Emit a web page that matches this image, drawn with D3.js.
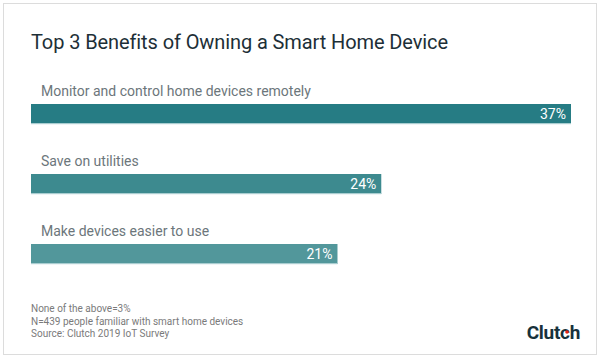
<!DOCTYPE html>
<html>
<head>
<meta charset="utf-8">
<script src="https://cdn.jsdelivr.net/npm/d3@7"></script>
<style>
  html, body { margin: 0; padding: 0; background: #fff; }
  svg { display: block; font-family: Roboto, sans-serif; }
</style>
</head>
<body>
<svg id="chart" width="600" height="358"></svg>
<script>
var categories = ['Monitor and control home devices remotely', 'Save on utilities', 'Make devices easier to use'];
var values = [37, 24, 21];
var barColors = ['#267c84', '#3d8a8f', '#52979b'];
var notes = ['None of the above=3%', 'N=439 people familiar with smart home devices', 'Source: Clutch 2019 IoT Survey'];

var svg = d3.select('#chart');

// card outline
svg.append('rect')
    .attr('x', 3.5).attr('y', 3.5)
    .attr('width', 593).attr('height', 351)
    .attr('fill', '#fff')
    .attr('stroke', '#dcdcdc');

svg.append('text')
    .attr('x', 31).attr('y', 49)
    .attr('fill', '#1d2f37')
    .style('font-size', '20px')
    .style('letter-spacing', '-0.1px')
    .text('Top 3 Benefits of Owning a Smart Home Device');

var x = d3.scaleLinear().domain([0, 37]).range([31, 571]);
var y = d3.scaleBand().domain(categories).range([104, 314]).paddingInner(0).paddingOuter(0);

var rows = svg.selectAll('g.row')
    .data(categories)
    .enter()
    .append('g')
        .attr('class', 'row')
        .attr('transform', function (d) { return 'translate(0,' + y(d) + ')'; });

rows.append('text')
    .attr('x', 41).attr('y', -8)
    .attr('fill', '#6c767b')
    .style('font-size', '14px')
    .text(function (d) { return d; });

rows.append('rect')
    .attr('x', x(0))
    .attr('y', 0)
    .attr('width', function (d, i) { return x(values[i]) - x(0); })
    .attr('height', 20)
    .attr('fill', function (d, i) { return barColors[i]; });

// thin light edge under each bar
rows.append('rect')
    .attr('x', x(0))
    .attr('y', 19)
    .attr('width', function (d, i) { return x(values[i]) - x(0); })
    .attr('height', 1.2)
    .attr('fill', '#a9cdd0');

rows.append('text')
    .attr('x', function (d, i) { return x(values[i]) - 5; })
    .attr('y', 15)
    .attr('text-anchor', 'end')
    .attr('fill', '#fff')
    .style('font-size', '14px')
    .text(function (d, i) { return values[i] + '%'; });

svg.selectAll('text.note')
    .data(notes)
    .enter()
    .append('text')
        .attr('class', 'note')
        .attr('x', 31)
        .attr('y', function (d, i) { return 312 + i * 12.5; })
        .attr('fill', '#7a7a7a')
        .style('font-size', '10px')
        .text(function (d) { return d; });

// Clutch logo
svg.append('text')
    .attr('x', 580).attr('y', 339)
    .attr('text-anchor', 'end')
    .attr('fill', '#17313b')
    .style('font-size', '19px')
    .style('font-weight', 'bold')
    .style('letter-spacing', '-0.3px')
    .text('Clutch');
svg.append('circle')
    .attr('cx', 567).attr('cy', 332)
    .attr('r', 1.8)
    .attr('fill', '#e62415');
</script>
</body>
</html>
